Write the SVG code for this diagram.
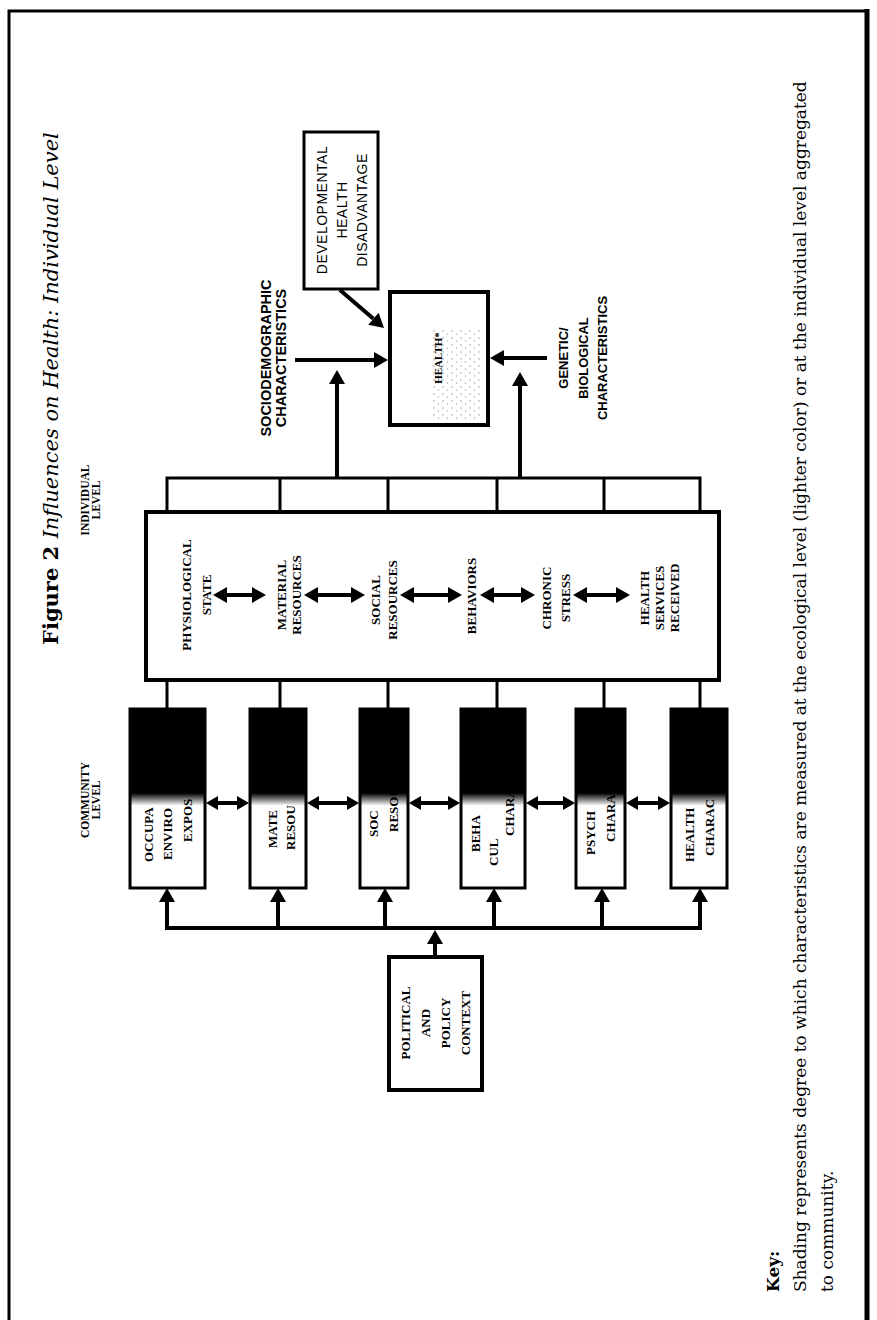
<svg xmlns="http://www.w3.org/2000/svg" width="877" height="1320" viewBox="0 0 877 1320">
<style>
.frame{fill:none;stroke:#000;stroke-width:3}
.box{fill:#fff;stroke:#000;stroke-width:4}
.cbox{stroke:#000;stroke-width:3}
.ln{fill:none;stroke:#000;stroke-width:4}
.thin{fill:none;stroke:#000;stroke-width:3}
.bs{font-family:"Liberation Serif","Times New Roman",serif;font-weight:bold;fill:#000}
.ss{font-family:"Liberation Sans",Arial,sans-serif;font-weight:bold;fill:#000}
.sr{font-family:"Liberation Sans",Arial,sans-serif;fill:#000}
.key{font-family:"DejaVu Serif","Liberation Serif",serif;fill:#000;font-size:17px}
</style>
<defs>
<marker id="ah" viewBox="0 0 14 16" refX="0" refY="8" markerWidth="14" markerHeight="16" markerUnits="userSpaceOnUse" orient="auto-start-reverse"><path d="M0,0 L14,8 L0,16 z" fill="#000"/></marker>
<marker id="ah2" viewBox="0 0 12 14" refX="0" refY="7" markerWidth="12" markerHeight="14" markerUnits="userSpaceOnUse" orient="auto-start-reverse"><path d="M0,0 L12,7 L0,14 z" fill="#000"/></marker>
<linearGradient id="shade" x1="0" y1="0" x2="0" y2="1">
<stop offset="0" stop-color="#000"/>
<stop offset="0.47" stop-color="#000"/>
<stop offset="0.54" stop-color="#fff"/>
<stop offset="1" stop-color="#fff"/>
</linearGradient>
<pattern id="stip" width="9" height="7" patternUnits="userSpaceOnUse"><circle cx="2" cy="2" r="0.8" fill="#000"/><circle cx="6.5" cy="5" r="0.7" fill="#000"/></pattern>
</defs>

<path class="frame" d="M9,1320 V11 H867"/>
<path fill="none" stroke="#000" stroke-width="5" d="M867,9 V1320"/>

<text font-family="'DejaVu Serif','Liberation Serif',serif" font-size="21" font-weight="bold" transform="translate(58,645) rotate(-90)">Figure 2 <tspan font-weight="normal" font-style="italic"> Influences on Health: Individual Level</tspan></text>

<g id="label-individual"><text class="bs" font-size="11.5" text-anchor="middle" transform="translate(0,500) rotate(-90)"><tspan x="0" y="89">INDIVIDUAL</tspan><tspan x="0" y="100">LEVEL</tspan></text></g>
<g id="label-community"><text class="bs" font-size="11.5" text-anchor="middle" transform="translate(0,800) rotate(-90)"><tspan x="0" y="89">COMMUNITY</tspan><tspan x="0" y="100">LEVEL</tspan></text></g>

<g id="health">
<rect class="box" x="390" y="292" width="98" height="133"/>
<rect x="430" y="330" width="52" height="90" fill="url(#stip)" opacity="0.35"/>
<text class="bs" font-size="11" text-anchor="middle" transform="translate(442,358) rotate(-90)">HEALTH*</text>
</g>

<g id="developmental">
<rect class="thin" x="304" y="132" width="74" height="157" fill="#fff"/>
<text class="sr" font-size="14" letter-spacing="0.5" text-anchor="middle" transform="translate(0,210) rotate(-90)"><tspan x="0" y="327">DEVELOPMENTAL</tspan><tspan x="0" y="347">HEALTH</tspan><tspan x="0" y="367">DISADVANTAGE</tspan></text>
</g>

<g id="sociodemographic"><text class="ss" font-size="14.5" text-anchor="middle" transform="translate(0,358) rotate(-90)"><tspan x="0" y="271">SOCIODEMOGRAPHIC</tspan><tspan x="0" y="286">CHARACTERISTICS</tspan></text></g>
<g id="genetic"><text class="ss" font-size="13" text-anchor="middle" transform="translate(0,358) rotate(-90)"><tspan x="0" y="568">GENETIC/</tspan><tspan x="0" y="588">BIOLOGICAL</tspan><tspan x="0" y="607">CHARACTERISTICS</tspan></text></g>

<g id="individual">
<rect class="box" x="146" y="512" width="573" height="168"/>
<rect class="thin" x="167" y="478" width="533" height="34" fill="#fff"/>
<path class="thin" d="M280,478 V512 M388,478 V512 M497,478 V512 M604,478 V512"/>
<g class="bs" font-size="13" text-anchor="middle">
<text transform="translate(0,595) rotate(-90)"><tspan x="0" y="191">PHYSIOLOGICAL</tspan><tspan x="0" y="211">STATE</tspan></text>
<text transform="translate(0,595) rotate(-90)"><tspan x="0" y="286">MATERIAL</tspan><tspan x="0" y="301">RESOURCES</tspan></text>
<text transform="translate(0,600) rotate(-90)"><tspan x="0" y="380">SOCIAL</tspan><tspan x="0" y="397">RESOURCES</tspan></text>
<text transform="translate(0,596) rotate(-90)"><tspan x="0" y="476">BEHAVIORS</tspan></text>
<text transform="translate(0,598) rotate(-90)"><tspan x="0" y="551">CHRONIC</tspan><tspan x="0" y="570">STRESS</tspan></text>
<text transform="translate(0,598) rotate(-90)"><tspan x="0" y="649">HEALTH</tspan><tspan x="0" y="664">SERVICES</tspan><tspan x="0" y="679">RECEIVED</tspan></text>
</g>
</g>

<g id="community">
<g id="c1"><rect class="cbox" x="130" y="709" width="75" height="179" fill="url(#shade)"/>
<text class="bs" font-size="13" transform="translate(0,862) rotate(-90)"><tspan x="0" y="153">OCCUPA</tspan><tspan x="2" y="172">ENVIRO</tspan><tspan x="20" y="192">EXPOS</tspan></text></g>
<g id="c2"><rect class="cbox" x="250" y="709" width="56" height="179" fill="url(#shade)"/>
<text class="bs" font-size="13" transform="translate(0,848) rotate(-90)"><tspan x="0" y="277">MATE</tspan><tspan x="-2" y="295">RESOU</tspan></text></g>
<g id="c3"><rect class="cbox" x="360" y="709" width="48" height="179" fill="url(#shade)"/>
<text class="bs" font-size="13" transform="translate(0,837) rotate(-90)"><tspan x="0" y="378">SOC</tspan><tspan x="5" y="398">RESOU</tspan></text></g>
<g id="c4"><rect class="cbox" x="461" y="709" width="64" height="179" fill="url(#shade)"/>
<text class="bs" font-size="13" transform="translate(0,852) rotate(-90)"><tspan x="0" y="480">BEHA</tspan><tspan x="-14" y="498">CUL</tspan><tspan x="16" y="514">CHARAC</tspan></text></g>
<g id="c5"><rect class="cbox" x="576" y="709" width="49" height="179" fill="url(#shade)"/>
<text class="bs" font-size="13" transform="translate(0,855) rotate(-90)"><tspan x="0" y="595">PSYCH</tspan><tspan x="13" y="615">CHARAC</tspan></text></g>
<g id="c6"><rect class="cbox" x="671" y="709" width="56" height="179" fill="url(#shade)"/>
<text class="bs" font-size="13" transform="translate(0,862) rotate(-90)"><tspan x="0" y="694">HEALTH</tspan><tspan x="6" y="714">CHARAC</tspan></text></g>
</g>

<g id="political">
<rect class="box" x="389" y="957" width="93" height="133"/>
<text class="bs" font-size="13" text-anchor="middle" transform="translate(0,1023) rotate(-90)"><tspan x="0" y="410">POLITICAL</tspan><tspan x="0" y="430">AND</tspan><tspan x="0" y="450">POLICY</tspan><tspan x="0" y="470">CONTEXT</tspan></text>
</g>

<g id="connectors">
<path class="ln" d="M340,290 L373.4,318.8" marker-end="url(#ah)"/>
<path class="ln" d="M295,360 H374" marker-end="url(#ah)"/>
<path class="ln" d="M547,358 H504" marker-end="url(#ah)"/>
<path class="ln" d="M337,478 V384" marker-end="url(#ah)"/>
<path class="ln" d="M520,478 V386" marker-end="url(#ah)"/>
<path class="ln" d="M227,595 H252" marker-start="url(#ah)" marker-end="url(#ah)"/>
<path class="ln" d="M318,595 H351" marker-start="url(#ah)" marker-end="url(#ah)"/>
<path class="ln" d="M414,595 H448" marker-start="url(#ah)" marker-end="url(#ah)"/>
<path class="ln" d="M494,595 H521" marker-start="url(#ah)" marker-end="url(#ah)"/>
<path class="ln" d="M587,595 H616" marker-start="url(#ah)" marker-end="url(#ah)"/>
<path class="thin" d="M167,680 V709 M280,680 V709 M388,680 V709 M497,680 V709 M604,680 V709 M700,680 V709"/>
<path class="ln" d="M218,803 H237" marker-start="url(#ah2)" marker-end="url(#ah2)"/>
<path class="ln" d="M319,803 H347" marker-start="url(#ah2)" marker-end="url(#ah2)"/>
<path class="ln" d="M421,803 H448" marker-start="url(#ah2)" marker-end="url(#ah2)"/>
<path class="ln" d="M538,803 H563" marker-start="url(#ah2)" marker-end="url(#ah2)"/>
<path class="ln" d="M638,803 H658" marker-start="url(#ah2)" marker-end="url(#ah2)"/>
<path class="ln" d="M167,928 H700"/>
<path class="ln" d="M167,930 V902" marker-end="url(#ah)"/>
<path class="ln" d="M278,930 V902" marker-end="url(#ah)"/>
<path class="ln" d="M385,930 V902" marker-end="url(#ah)"/>
<path class="ln" d="M494,930 V902" marker-end="url(#ah)"/>
<path class="ln" d="M602,930 V902" marker-end="url(#ah)"/>
<path class="ln" d="M700,930 V902" marker-end="url(#ah)"/>
<path class="ln" d="M435,957 V944" marker-end="url(#ah)"/>
</g>

<g id="key">
<text class="key" font-weight="bold" transform="translate(779,1292) rotate(-90)">Key:</text>
<text class="key" transform="translate(806,1292) rotate(-90)">Shading represents degree to which characteristics are measured at the ecological level (lighter color) or at the individual level aggregated</text>
<text class="key" transform="translate(833,1292) rotate(-90)">to community.</text>
</g>
</svg>
